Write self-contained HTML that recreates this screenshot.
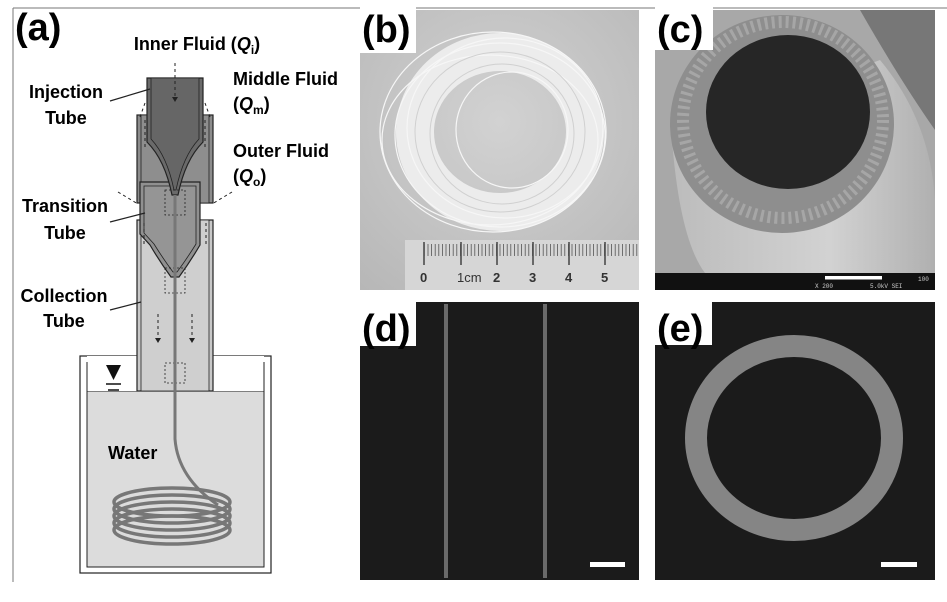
<!DOCTYPE html>
<html><head><meta charset="utf-8"><style>
html,body{margin:0;padding:0;background:#fff;}
body{width:947px;height:597px;overflow:hidden;}
text{font-family:"Liberation Sans",sans-serif;font-weight:bold;}
.n{font-weight:normal;}
</style></head><body>
<svg width="947" height="597" viewBox="0 0 947 597" xmlns="http://www.w3.org/2000/svg">
<defs>
<radialGradient id="bg" cx="0.5" cy="0.4" r="0.8"><stop offset="0" stop-color="#d2d2d2"/><stop offset="1" stop-color="#b6b6b6"/></radialGradient>
<linearGradient id="cyl" x1="0" x2="1"><stop offset="0" stop-color="#bcbcbc"/><stop offset="0.6" stop-color="#d2d2d2"/><stop offset="1" stop-color="#b0b0b0"/></linearGradient>
</defs>
<line x1="13" y1="8" x2="947" y2="8" stroke="#777" stroke-width="1"/>
<line x1="13" y1="8" x2="13" y2="582" stroke="#777" stroke-width="1"/>

<!-- panel a -->
<text x="15" y="40" font-size="38">(a)</text>
<text x="197" y="50" font-size="18" text-anchor="middle">Inner Fluid (<tspan font-style="italic">Q</tspan><tspan font-size="12" dy="4">i</tspan><tspan dy="-4">)</tspan></text>
<text x="233" y="85" font-size="18">Middle Fluid</text>
<text x="233" y="110" font-size="18">(<tspan font-style="italic">Q</tspan><tspan font-size="12" dy="4">m</tspan><tspan dy="-4">)</tspan></text>
<text x="233" y="157" font-size="18">Outer Fluid</text>
<text x="233" y="182" font-size="18">(<tspan font-style="italic">Q</tspan><tspan font-size="12" dy="4">o</tspan><tspan dy="-4">)</tspan></text>
<text x="66" y="98" font-size="18" text-anchor="middle">Injection</text>
<text x="66" y="124" font-size="18" text-anchor="middle">Tube</text>
<text x="65" y="212" font-size="18" text-anchor="middle">Transition</text>
<text x="65" y="239" font-size="18" text-anchor="middle">Tube</text>
<text x="64" y="302" font-size="18" text-anchor="middle">Collection</text>
<text x="64" y="327" font-size="18" text-anchor="middle">Tube</text>

<!-- container -->
<rect x="80" y="356" width="191" height="217" fill="#fff" stroke="#222" stroke-width="1.2"/>
<rect x="87" y="391" width="177" height="176" fill="#dcdcdc" stroke="#222" stroke-width="1"/>
<rect x="87" y="356" width="177" height="35" fill="#fff"/>
<line x1="87" y1="362" x2="87" y2="391" stroke="#222"/><line x1="264" y1="362" x2="264" y2="391" stroke="#222"/>
<polygon points="106,365 121,365 113.5,380" fill="#111"/>
<line x1="106" y1="384" x2="121" y2="384" stroke="#111" stroke-width="1.5"/>
<line x1="108" y1="390" x2="119" y2="390" stroke="#111" stroke-width="1.5"/>
<text x="108" y="459" font-size="18">Water</text>

<!-- collection tube -->
<rect x="137" y="220" width="76" height="171" fill="#c8c8c8" stroke="#222" stroke-width="1.2"/>
<rect x="141" y="220" width="68" height="171" fill="#cfcfcf" stroke="#222" stroke-width="0.8"/>
<!-- first housing -->
<rect x="137" y="115" width="76" height="88" fill="#8c8c8c" stroke="#222" stroke-width="1.2"/>
<rect x="141" y="115" width="68" height="88" fill="#8e8e8e" stroke="#222" stroke-width="0.8"/>
<!-- transition tube -->
<path d="M140,182 L200,182 L200,245 Q190,262 179,277 L171,277 Q160,262 150,245 L140,234 Z" fill="#909090" stroke="#222" stroke-width="1.2"/>
<path d="M144,186 L196,186 L196,244 Q186,260 177,272 L173,272 Q164,260 154,244 L144,233 Z" fill="#959595" stroke="#222" stroke-width="0.8"/>
<!-- injection tube -->
<path d="M147,78 L203,78 L203,142 Q185,160 178,195 L172,195 Q165,160 147,142 Z" fill="#6a6a6a" stroke="#222" stroke-width="1.2"/>
<path d="M151,78 L199,78 L199,139 Q183,156 176,190 L174,190 Q167,156 151,139 Z" fill="#666" stroke="#222" stroke-width="0.8"/>
<g stroke="#222" stroke-width="1" stroke-dasharray="3,3" fill="none">
<line x1="175" y1="63" x2="175" y2="97"/>
<line x1="145" y1="103" x2="140" y2="117"/><line x1="205" y1="103" x2="210" y2="117"/>
<line x1="145" y1="120" x2="145" y2="148"/><line x1="205" y1="120" x2="205" y2="148"/>
<line x1="118" y1="192" x2="138" y2="204"/><line x1="232" y1="192" x2="212" y2="204"/>
<line x1="144" y1="223" x2="144" y2="245"/><line x1="206" y1="223" x2="206" y2="245"/>
<line x1="158" y1="314" x2="158" y2="338"/><line x1="192" y1="314" x2="192" y2="338"/>
<rect x="165" y="190" width="20" height="25" stroke-width="0.8" stroke-dasharray="2,2"/>
<rect x="165" y="268" width="20" height="25" stroke-width="0.8" stroke-dasharray="2,2"/>
<rect x="165" y="363" width="20" height="20" stroke-width="0.8" stroke-dasharray="2,2"/>
</g>
<g fill="#222"><polygon points="172,97 178,97 175,102"/><polygon points="155,338 161,338 158,343"/><polygon points="189,338 195,338 192,343"/></g>
<g stroke="#222" stroke-width="1.2"><line x1="110" y1="101" x2="150" y2="89"/><line x1="110" y1="222" x2="145" y2="213"/><line x1="110" y1="310" x2="141" y2="302"/></g>
<path d="M175,195 L175,439 Q178,478 218,505" fill="none" stroke="#777" stroke-width="3"/>
<g fill="none" stroke="#777" stroke-width="3.5">
<ellipse cx="172" cy="502" rx="58" ry="14"/><ellipse cx="172" cy="509" rx="58" ry="14"/>
<ellipse cx="172" cy="516" rx="58" ry="14"/><ellipse cx="172" cy="523" rx="58" ry="14"/>
<ellipse cx="172" cy="530" rx="58" ry="14"/>
</g>

<!-- panel b -->
<rect x="360" y="10" width="279" height="280" fill="url(#bg)"/>
<ellipse cx="500" cy="132" rx="85" ry="80" fill="none" stroke="#ececec" stroke-width="38"/>
<g fill="none" stroke="#f6f6f6" stroke-width="1.2">
<ellipse cx="493" cy="132" rx="113" ry="100"/><ellipse cx="500" cy="135" rx="105" ry="92"/>
<ellipse cx="505" cy="128" rx="98" ry="90"/><ellipse cx="512" cy="130" rx="56" ry="58"/>
<ellipse cx="490" cy="140" rx="108" ry="85"/>
</g>
<g fill="none" stroke="#d0d0d0" stroke-width="1"><ellipse cx="500" cy="132" rx="85" ry="80"/><ellipse cx="502" cy="134" rx="72" ry="70"/></g>
<rect x="405" y="240" width="234" height="50" fill="#d6d6d6"/>
<g stroke="#444" stroke-width="1.5"><line x1="424" y1="242" x2="424" y2="265"/><line x1="461" y1="242" x2="461" y2="265"/><line x1="497" y1="242" x2="497" y2="265"/><line x1="533" y1="242" x2="533" y2="265"/><line x1="569" y1="242" x2="569" y2="265"/><line x1="605" y1="242" x2="605" y2="265"/></g>
<line x1="424" y1="250" x2="639" y2="250" stroke="#555" stroke-width="12" stroke-dasharray="0.8,2.8"/>
<g font-size="13" fill="#333"><text x="420" y="282">0</text><text x="457" y="282" class="n">1cm</text><text x="493" y="282">2</text><text x="529" y="282">3</text><text x="565" y="282">4</text><text x="601" y="282">5</text></g>
<rect x="360" y="0" width="56" height="53" fill="#fff"/>
<text x="362" y="42" font-size="38">(b)</text>

<!-- panel c -->
<rect x="655" y="10" width="280" height="263" fill="#a8a8a8"/>
<path d="M860,10 L935,10 L935,130 Q900,80 860,10Z" fill="#777"/>
<path d="M672,140 Q680,240 705,273 L935,273 L935,200 Q930,120 880,60 Z" fill="url(#cyl)"/>
<ellipse cx="782" cy="124" rx="112" ry="109" fill="#8e8e8e"/>
<ellipse cx="783" cy="120" rx="100" ry="98" fill="none" stroke="#b0b0b0" stroke-width="12" stroke-dasharray="3,4" opacity="0.7"/>
<ellipse cx="788" cy="112" rx="82" ry="77" fill="#262626"/>
<rect x="655" y="273" width="280" height="17" fill="#111"/>
<rect x="825" y="276" width="57" height="3.5" fill="#fff"/>
<text x="815" y="288" font-size="6" fill="#ccc" class="n" style="font-family:'Liberation Mono',monospace">X 200</text>
<text x="870" y="288" font-size="6" fill="#ccc" class="n" style="font-family:'Liberation Mono',monospace">5.0kV  SEI</text>
<text x="918" y="281" font-size="6" fill="#ccc" class="n" style="font-family:'Liberation Mono',monospace">100</text>
<rect x="655" y="0" width="58" height="50" fill="#fff"/>
<text x="657" y="42" font-size="38">(c)</text>

<!-- panel d -->
<rect x="360" y="302" width="279" height="278" fill="#1b1b1b"/>
<rect x="444" y="304" width="4" height="274" fill="#6a6a6a"/>
<rect x="543" y="304" width="4" height="274" fill="#6a6a6a"/>
<rect x="590" y="562" width="35" height="5" fill="#fff"/>
<rect x="360" y="298" width="56" height="48" fill="#fff"/>
<text x="362" y="341" font-size="38">(d)</text>

<!-- panel e -->
<rect x="655" y="302" width="280" height="278" fill="#1b1b1b"/>
<ellipse cx="794" cy="438" rx="98" ry="92" fill="none" stroke="#858585" stroke-width="22"/>
<rect x="881" y="562" width="36" height="5" fill="#fff"/>
<rect x="655" y="298" width="57" height="47" fill="#fff"/>
<text x="657" y="341" font-size="38">(e)</text>
</svg>
</body></html>
